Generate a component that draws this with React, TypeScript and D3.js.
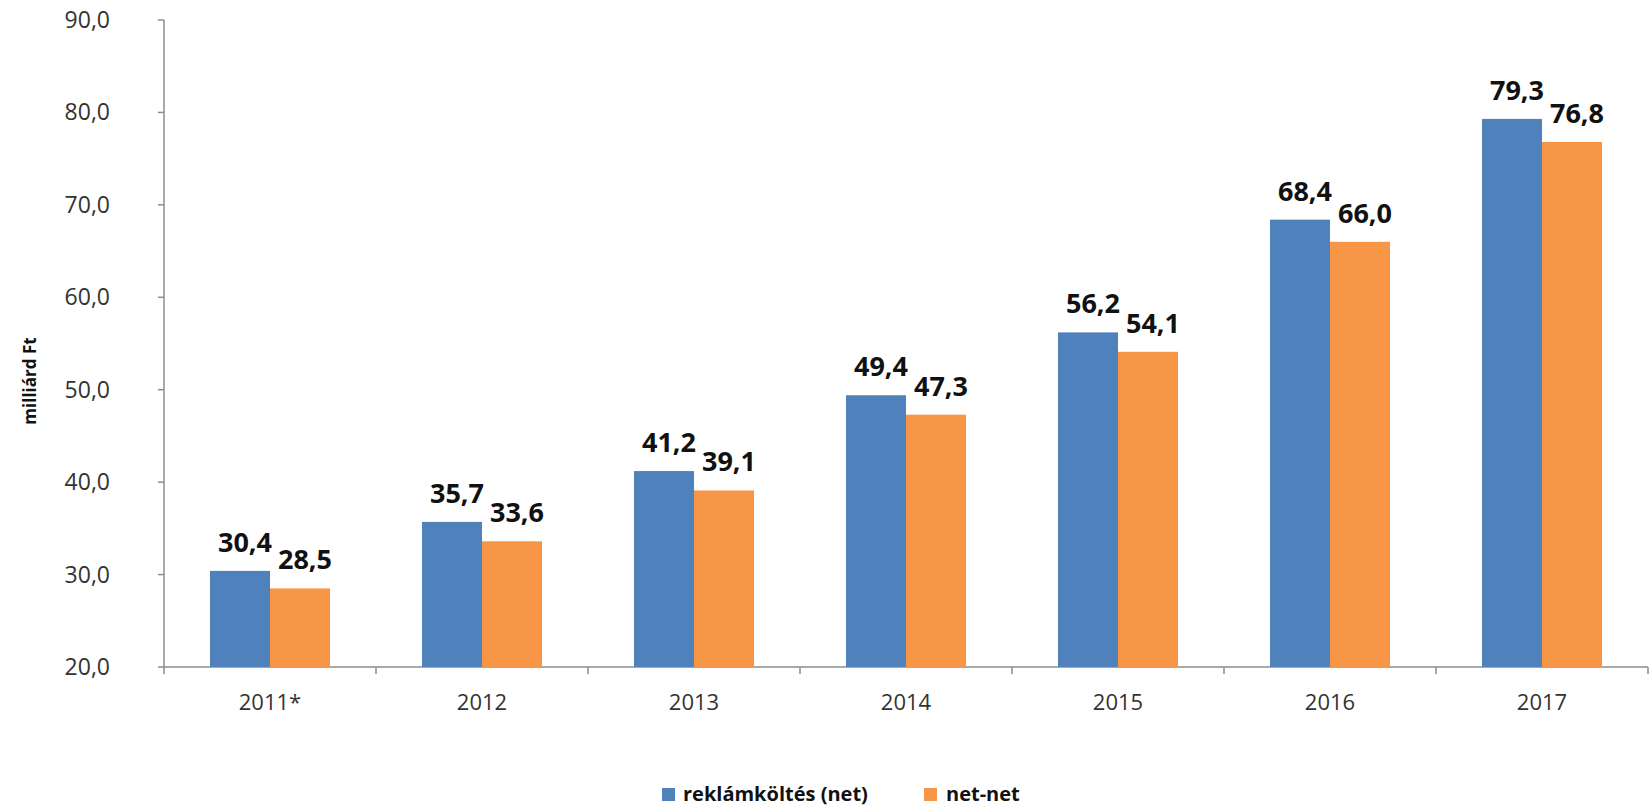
import React from "react";
import * as d3 from "d3";

const categories = ["2011*", "2012", "2013", "2014", "2015", "2016", "2017"];
const seriesNames = ["reklámköltés (net)", "net-net"];
const netValues = [30.4, 35.7, 41.2, 49.4, 56.2, 68.4, 79.3];
const netNetValues = [28.5, 33.6, 39.1, 47.3, 54.1, 66.0, 76.8];
const yTicks = [20, 30, 40, 50, 60, 70, 80, 90];
const colors = ["#4F81BD", "#F79646"];

const W = 1650;
const H = 807;
const left = 164;
const right = 1648;
const top = 20;
const bottom = 667;
const font = "'Open Sans', sans-serif";

const fmt = (v: number) => v.toFixed(1).replace(".", ",");

export default function App() {
  const x0 = d3.scaleBand<string>().domain(categories).range([left, right]).paddingInner(0).paddingOuter(0);
  const x1 = d3.scaleBand<string>().domain(seriesNames).range([0, x0.bandwidth()]).paddingInner(0).paddingOuter(0.767);
  const y = d3.scaleLinear().domain([20, 90]).range([bottom, top]);
  const series = [netValues, netNetValues];
  const axisColor = "#8c8c8c";

  return (
    <svg width={W} height={H} style={{ position: "absolute", left: 0, top: 0, background: "#fff" }}>
      {/* y axis */}
      <line x1={left} x2={left} y1={y(90)} y2={y(20)} stroke={axisColor} strokeWidth={1.5} />
      {yTicks.map((t) => (
        <g key={t}>
          <line x1={left - 6} x2={left} y1={y(t)} y2={y(t)} stroke={axisColor} strokeWidth={1.5} />
          <text x={110} y={y(t)} dy="0.35em" textAnchor="end" fontFamily={font} fontSize={23} fill="#333">
            {fmt(t)}
          </text>
        </g>
      ))}
      {/* x axis */}
      <line x1={left} x2={right} y1={bottom} y2={bottom} stroke={axisColor} strokeWidth={1.5} />
      {[...categories.map((c) => x0(c)!), right].map((xv, i) => (
        <line key={i} x1={xv} x2={xv} y1={bottom} y2={bottom + 7} stroke={axisColor} strokeWidth={1.5} />
      ))}
      {categories.map((c) => (
        <text key={c} x={x0(c)! + x0.bandwidth() / 2} y={702} dy="0.35em" textAnchor="middle" fontFamily={font} fontSize={22} fill="#333">
          {c}
        </text>
      ))}
      {/* bars */}
      {categories.map((c, i) => (
        <g key={c}>
          {series.map((vals, s) => {
            const bx = x0(c)! + x1(seriesNames[s])!;
            const by = y(vals[i]);
            return (
              <g key={s}>
                <rect x={bx} y={by} width={x1.bandwidth()} height={bottom - by} fill={colors[s]} />
                <text x={bx + x1.bandwidth() / 2 + 5} y={by - 19} textAnchor="middle" fontFamily={font} fontWeight="bold" fontSize={27} fill="#111">
                  {fmt(vals[i])}
                </text>
              </g>
            );
          })}
        </g>
      ))}
      {/* y title */}
      <text transform={`translate(36,381) rotate(-90)`} textAnchor="middle" fontFamily={font} fontWeight="bold" fontSize={17} fill="#111">
        milliárd Ft
      </text>
      {/* legend */}
      <rect x={662} y={788} width={13} height={13} fill={colors[0]} />
      <text x={683} y={794} dy="0.35em" fontFamily={font} fontWeight="bold" fontSize={20} fill="#111">
        {seriesNames[0]}
      </text>
      <rect x={924} y={788} width={13} height={13} fill={colors[1]} />
      <text x={946} y={794} dy="0.35em" fontFamily={font} fontWeight="bold" fontSize={20} fill="#111">
        {seriesNames[1]}
      </text>
    </svg>
  );
}
